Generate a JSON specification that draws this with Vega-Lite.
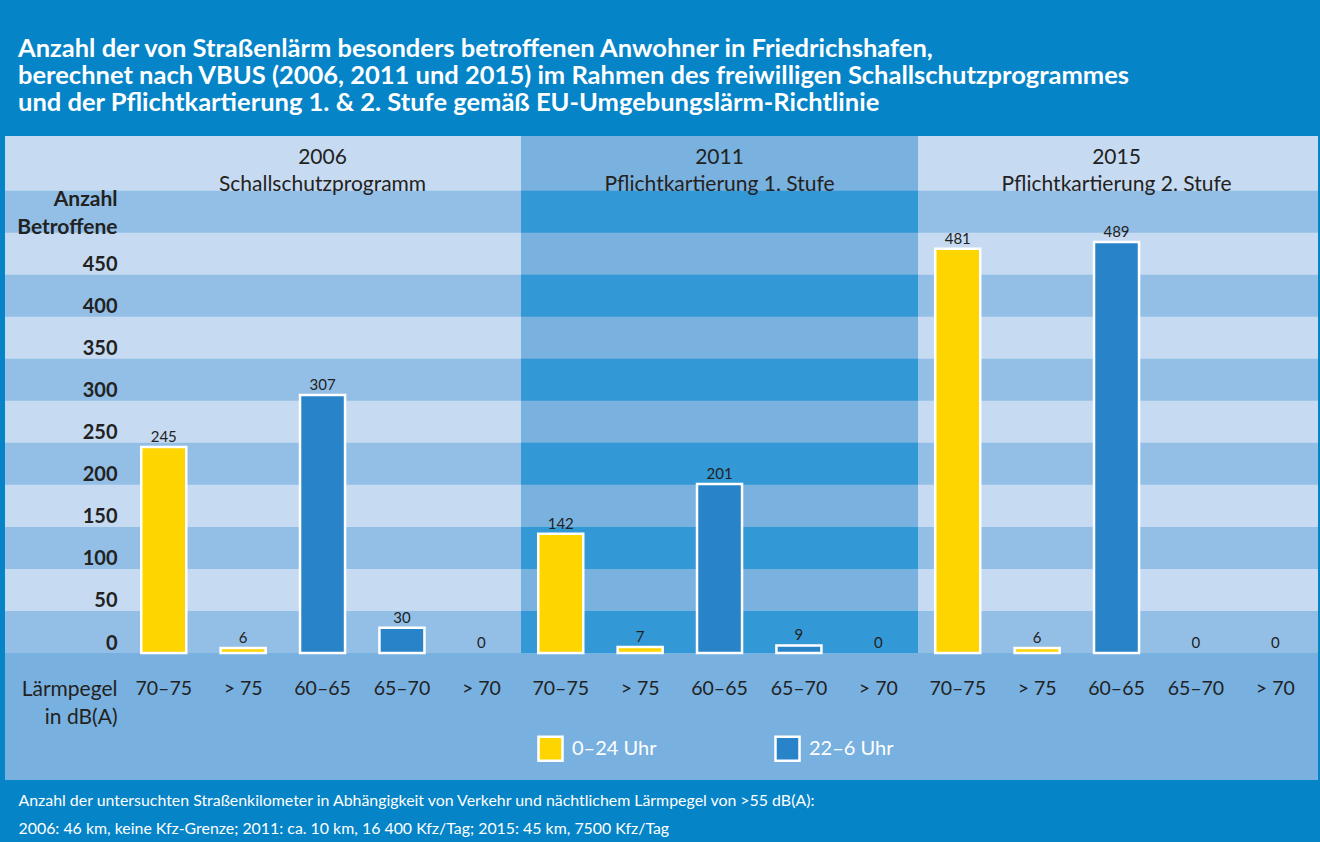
{
  "$schema": "https://vega.github.io/schema/vega-lite/v6.json",
  "width": 1313,
  "height": 517,
  "autosize": {"type": "none"},
  "padding": {"left": 5, "top": 136, "right": 2, "bottom": 189},
  "background": "#0584C8",
  "config": {
    "font": "Lato",
    "view": {"fill": "#C6DBF1", "stroke": null},
    "axis": {"grid": false, "domain": false, "ticks": false, "tickSize": 0}
  },
  "title": {
    "text": [
      "Anzahl der von Straßenlärm besonders betroffenen Anwohner in Friedrichshafen,",
      "berechnet nach VBUS (2006, 2011 und 2015) im Rahmen des freiwilligen Schallschutzprogrammes",
      "und der Pflichtkartierung 1. & 2. Stufe gemäß EU-Umgebungslärm-Richtlinie"
    ],
    "anchor": "start",
    "frame": "group",
    "dx": 13,
    "offset": 20,
    "font": "Lato",
    "fontSize": 25.5,
    "fontWeight": "bold",
    "color": "white",
    "lineHeight": 27
  },
  "datasets": {
    "werte": [
      {"jahr": "2006", "kat": "2006|70–75", "zeit": "0–24 Uhr", "wert": 245},
      {"jahr": "2006", "kat": "2006|> 75", "zeit": "0–24 Uhr", "wert": 6},
      {"jahr": "2006", "kat": "2006|60–65", "zeit": "22–6 Uhr", "wert": 307},
      {"jahr": "2006", "kat": "2006|65–70", "zeit": "22–6 Uhr", "wert": 30},
      {"jahr": "2006", "kat": "2006|> 70", "zeit": "22–6 Uhr", "wert": 0},
      {"jahr": "2011", "kat": "2011|70–75", "zeit": "0–24 Uhr", "wert": 142},
      {"jahr": "2011", "kat": "2011|> 75", "zeit": "0–24 Uhr", "wert": 7},
      {"jahr": "2011", "kat": "2011|60–65", "zeit": "22–6 Uhr", "wert": 201},
      {"jahr": "2011", "kat": "2011|65–70", "zeit": "22–6 Uhr", "wert": 9},
      {"jahr": "2011", "kat": "2011|> 70", "zeit": "22–6 Uhr", "wert": 0},
      {"jahr": "2015", "kat": "2015|70–75", "zeit": "0–24 Uhr", "wert": 481},
      {"jahr": "2015", "kat": "2015|> 75", "zeit": "0–24 Uhr", "wert": 6},
      {"jahr": "2015", "kat": "2015|60–65", "zeit": "22–6 Uhr", "wert": 489},
      {"jahr": "2015", "kat": "2015|65–70", "zeit": "22–6 Uhr", "wert": 0},
      {"jahr": "2015", "kat": "2015|> 70", "zeit": "22–6 Uhr", "wert": 0}
    ],
    "streifen": [
      {"von": 0, "bis": 50},
      {"von": 100, "bis": 150},
      {"von": 200, "bis": 250},
      {"von": 300, "bis": 350},
      {"von": 400, "bis": 450},
      {"von": 500, "bis": 550}
    ],
    "koepfe": [
      {"kat": "2006|60–65", "kopf": "2006\nSchallschutzprogramm"},
      {"kat": "2011|60–65", "kopf": "2011\nPflichtkartierung 1. Stufe"},
      {"kat": "2015|60–65", "kopf": "2015\nPflichtkartierung 2. Stufe"}
    ]
  },
  "layer": [
    {
      "layer": [
        {
          "data": {"name": "streifen"},
          "mark": {"type": "rect", "color": "#93BFE6"},
          "encoding": {
            "y": {"field": "von", "type": "quantitative", "scale": {"domain": [0, 615], "nice": false, "zero": false},
              "axis": {"orient": "left", "zindex": 1, "offset": -112, "values": [0, 50, 100, 150, 200, 250, 300, 350, 400, 450], "labelFont": "Lato", "labelFontSize": 20, "labelFontWeight": "bold", "labelColor": "#222222", "labelAlign": "right", "labelBaseline": "alphabetic", "labelOffset": -4, "labelPadding": 0, "title": ["Anzahl", "Betroffene"], "titleAngle": 0, "titleX": 0, "titleY": 69, "titleAlign": "right", "titleAnchor": "start", "titleBaseline": "alphabetic", "titleFont": "Lato", "titleFontSize": 21, "titleFontWeight": "bold", "titleColor": "#222222", "titleLineHeight": 28}},
            "y2": {"field": "bis"}
          }
        },
        {
          "data": {"values": [{}]},
          "mark": {"type": "rect", "color": "#79B1DF"},
          "encoding": {
            "x": {
              "datum": 5,
              "type": "quantitative",
              "scale": {"domain": [-1.4987, 15.0378], "nice": false, "zero": false},
              "axis": {
                "orient": "top",
                "labels": false,
                "zindex": 1,
                "title": [
                  "Anzahl der untersuchten Straßenkilometer in Abhängigkeit von Verkehr und nächtlichem Lärmpegel von >55 dB(A):",
                  "2006: 46 km, keine Kfz-Grenze; 2011: ca. 10 km, 16 400 Kfz/Tag; 2015: 45 km, 7500 Kfz/Tag"
                ],
                "titleX": 13,
                "titleY": 669,
                "titleAlign": "left",
                "titleAnchor": "start",
                "titleAngle": 0,
                "titleBaseline": "alphabetic",
                "titleFont": "Lato",
                "titleFontSize": 15.9,
                "titleFontWeight": "normal",
                "titleColor": "white",
                "titleLineHeight": 28
              }
            },
            "x2": {"datum": 10}
          }
        },
        {
          "data": {"name": "streifen"},
          "mark": {"type": "rect", "color": "#3399D6"},
          "encoding": {
            "x": {"datum": 5, "type": "quantitative"},
            "x2": {"datum": 10},
            "y": {"field": "von", "type": "quantitative",
              "axis": {"orient": "left", "zindex": 1, "offset": -112, "values": [0, 50, 100, 150, 200, 250, 300, 350, 400, 450], "labelFont": "Lato", "labelFontSize": 20, "labelFontWeight": "bold", "labelColor": "#222222", "labelAlign": "right", "labelBaseline": "alphabetic", "labelOffset": -4, "labelPadding": 0, "title": ["Anzahl", "Betroffene"], "titleAngle": 0, "titleX": 0, "titleY": 69, "titleAlign": "right", "titleAnchor": "start", "titleBaseline": "alphabetic", "titleFont": "Lato", "titleFontSize": 21, "titleFontWeight": "bold", "titleColor": "#222222", "titleLineHeight": 28}},
            "y2": {"field": "bis"}
          }
        },
        {
          "data": {"values": [{}]},
          "mark": {"type": "rect", "color": "#78B0DF"},
          "encoding": {
            "y": {"datum": -151.2, "type": "quantitative",
              "axis": {"orient": "left", "zindex": 1, "offset": -112, "values": [0, 50, 100, 150, 200, 250, 300, 350, 400, 450], "labelFont": "Lato", "labelFontSize": 20, "labelFontWeight": "bold", "labelColor": "#222222", "labelAlign": "right", "labelBaseline": "alphabetic", "labelOffset": -4, "labelPadding": 0, "title": ["Anzahl", "Betroffene"], "titleAngle": 0, "titleX": 0, "titleY": 69, "titleAlign": "right", "titleAnchor": "start", "titleBaseline": "alphabetic", "titleFont": "Lato", "titleFontSize": 21, "titleFontWeight": "bold", "titleColor": "#222222", "titleLineHeight": 28}},
            "y2": {"datum": 0}
          }
        }
      ]
    },
    {
      "data": {"name": "werte"},
      "encoding": {
        "x": {
          "field": "kat",
          "type": "nominal",
          "sort": null,
          "scale": {
            "type": "band",
            "domain": ["2006|70–75", "2006|> 75", "2006|60–65", "2006|65–70", "2006|> 70",
                       "2011|70–75", "2011|> 75", "2011|60–65", "2011|65–70", "2011|> 70",
                       "2015|70–75", "2015|> 75", "2015|60–65", "2015|65–70", "2015|> 70"],
            "paddingInner": 0.433,
            "paddingOuter": 0.985,
            "align": 0.871
          },
          "axis": {
            "orient": "bottom",
            "zindex": 1,
            "labelExpr": "split(datum.label, '|')[1]",
            "labelAngle": 0,
            "labelFont": "Lato",
            "labelFontSize": 19.5,
            "labelColor": "#222222",
            "labelBaseline": "middle",
            "labelPadding": 35,
            "title": ["Lärmpegel", "in dB(A)"],
            "titleX": 112,
            "titleY": 42,
            "titleAlign": "right",
            "titleAnchor": "end",
            "titleBaseline": "alphabetic",
            "titleFont": "Lato",
            "titleFontSize": 21,
            "titleFontWeight": "normal",
            "titleColor": "#222222",
            "titleLineHeight": 28
          }
        }
      },
      "layer": [
        {
          "transform": [{"filter": "datum.wert > 0"}],
          "mark": {"type": "bar", "stroke": "white", "strokeWidth": 2.5},
          "encoding": {
            "y": {
              "field": "wert",
              "type": "quantitative",
              "scale": {"domain": [0, 615], "nice": false, "zero": false},
              "axis": {"orient": "left", "zindex": 1, "offset": -112, "values": [0, 50, 100, 150, 200, 250, 300, 350, 400, 450], "labelFont": "Lato", "labelFontSize": 20, "labelFontWeight": "bold", "labelColor": "#222222", "labelAlign": "right", "labelBaseline": "alphabetic", "labelOffset": -4, "labelPadding": 0, "title": ["Anzahl", "Betroffene"], "titleAngle": 0, "titleX": 0, "titleY": 69, "titleAlign": "right", "titleAnchor": "start", "titleBaseline": "alphabetic", "titleFont": "Lato", "titleFontSize": 21, "titleFontWeight": "bold", "titleColor": "#222222", "titleLineHeight": 28}
            },
            "color": {
              "field": "zeit",
              "type": "nominal",
              "scale": {"domain": ["0–24 Uhr", "22–6 Uhr"], "range": ["#FFD500", "#2983C8"]},
              "legend": {
                "orient": "none",
                "legendX": 532,
                "legendY": 599,
                "direction": "horizontal",
                "title": null,
                "symbolType": "square",
                "symbolSize": 576,
                "symbolStrokeColor": "white",
                "symbolStrokeWidth": 2.5,
                "symbolOpacity": 1,
                "labelFont": "Lato",
                "labelFontSize": 20,
                "labelColor": "white",
                "labelOffset": 8,
                "columnPadding": 113,
                "zindex": 1
              }
            }
          }
        },
        {
          "mark": {"type": "text", "baseline": "alphabetic", "dy": -5, "font": "Lato", "fontSize": 15, "color": "#222222"},
          "encoding": {
            "y": {
              "field": "wert",
              "type": "quantitative",
              "axis": {"orient": "left", "zindex": 1, "offset": -112, "values": [0, 50, 100, 150, 200, 250, 300, 350, 400, 450], "labelFont": "Lato", "labelFontSize": 20, "labelFontWeight": "bold", "labelColor": "#222222", "labelAlign": "right", "labelBaseline": "alphabetic", "labelOffset": -4, "labelPadding": 0, "title": ["Anzahl", "Betroffene"], "titleAngle": 0, "titleX": 0, "titleY": 69, "titleAlign": "right", "titleAnchor": "start", "titleBaseline": "alphabetic", "titleFont": "Lato", "titleFontSize": 21, "titleFontWeight": "bold", "titleColor": "#222222", "titleLineHeight": 28}
            },
            "text": {"field": "wert", "type": "quantitative"}
          }
        },
        {
          "data": {"name": "koepfe"},
          "mark": {"type": "text", "lineBreak": "\n", "baseline": "alphabetic", "font": "Lato", "fontSize": 21, "lineHeight": 27, "color": "#222222"},
          "encoding": {
            "y": {"datum": 582, "type": "quantitative",
              "axis": {"orient": "left", "zindex": 1, "offset": -112, "values": [0, 50, 100, 150, 200, 250, 300, 350, 400, 450], "labelFont": "Lato", "labelFontSize": 20, "labelFontWeight": "bold", "labelColor": "#222222", "labelAlign": "right", "labelBaseline": "alphabetic", "labelOffset": -4, "labelPadding": 0, "title": ["Anzahl", "Betroffene"], "titleAngle": 0, "titleX": 0, "titleY": 69, "titleAlign": "right", "titleAnchor": "start", "titleBaseline": "alphabetic", "titleFont": "Lato", "titleFontSize": 21, "titleFontWeight": "bold", "titleColor": "#222222", "titleLineHeight": 28}},
            "text": {"field": "kopf", "type": "nominal"}
          }
        }
      ]
    }
  ],
  "resolve": {"scale": {"x": "independent"}, "axis": {"x": "independent"}}
}
